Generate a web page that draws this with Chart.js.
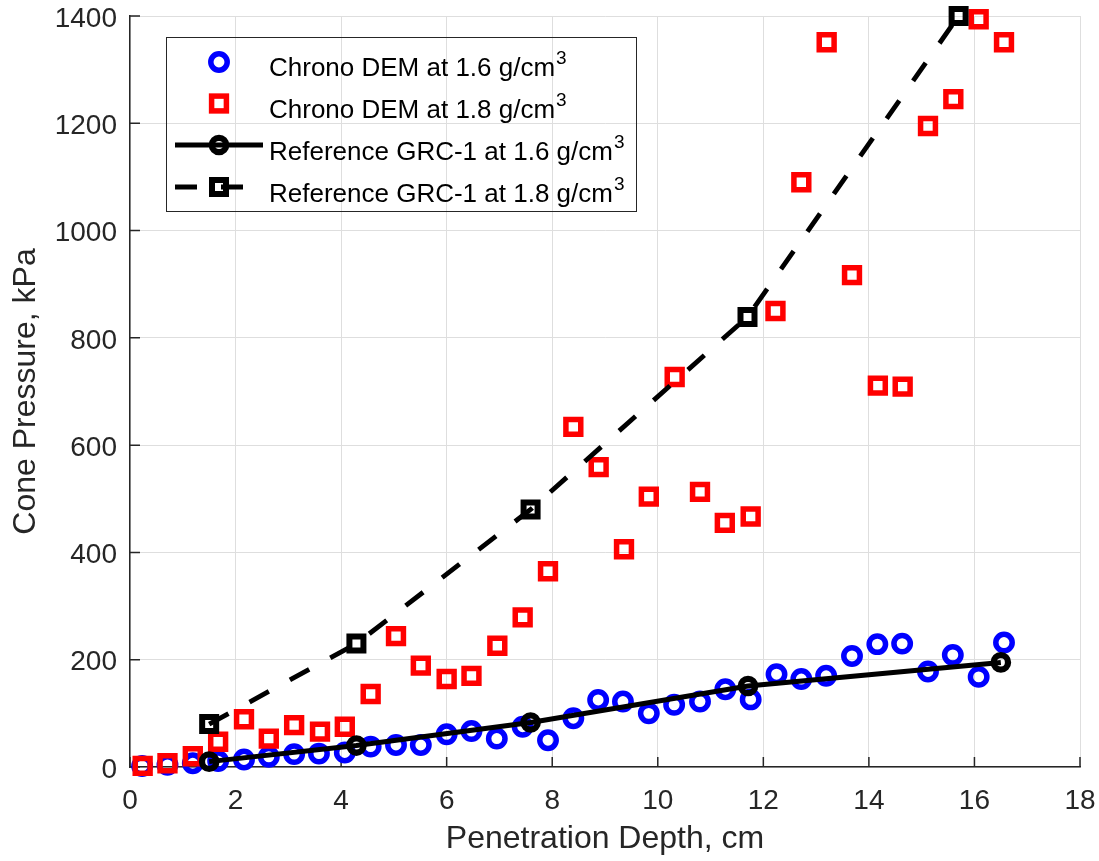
<!DOCTYPE html>
<html lang="en">
<head>
  <meta charset="UTF-8">
  <title>Cone Pressure vs Penetration Depth</title>
  <script src="https://cdn.jsdelivr.net/npm/chart.js"></script>
  <style>
    html, body { margin: 0; padding: 0; background: #fff; }
    #coneChart { display: block; }
  </style>
</head>
<body>
<canvas id="coneChart" width="1099" height="861"></canvas>

<script>
  // Chrono DEM at 1.6 g/cm3
  const demDepth16 = [0.23, 0.71, 1.19, 1.67, 2.16, 2.63, 3.11, 3.58, 4.07, 4.56, 5.04, 5.51,
    6.00, 6.47, 6.95, 7.44, 7.92, 8.40, 8.87, 9.34, 9.83, 10.31, 10.80, 11.28, 11.76,
    12.25, 12.72, 13.19, 13.68, 14.16, 14.63, 15.12, 15.59, 16.08, 16.56];
  const demPressure16 = [2, 4, 7, 11, 14, 19, 24, 25, 27, 38, 41, 41,
    61, 67, 53, 75, 50, 91, 125, 122, 100, 116, 122, 145, 126,
    173, 164, 170, 207, 229, 230, 178, 209, 168, 232];

  // Chrono DEM at 1.8 g/cm3
  const demDepth18 = [0.24, 0.71, 1.19, 1.67, 2.16, 2.63, 3.11, 3.60, 4.07, 4.56, 5.04, 5.51,
    6.00, 6.47, 6.96, 7.44, 7.92, 8.40, 8.88, 9.36, 9.83, 10.32, 10.80, 11.27, 11.76,
    12.23, 12.72, 13.20, 13.68, 14.17, 14.64, 15.12, 15.60, 16.08, 16.56];
  const demPressure18 = [2, 7, 20, 47, 89, 53, 78, 66, 75, 136, 244, 189,
    164, 170, 226, 279, 365, 634, 559, 406, 504, 727, 513, 455, 467,
    850, 1090, 1351, 917, 711, 709, 1195, 1245, 1394, 1351];

  // Reference GRC-1 curves
  const refDepth16 = [1.50, 4.29, 7.59, 11.71, 16.50];
  const refPressure16 = [10, 40, 83, 151, 195];
  const refDepth18 = [1.50, 4.29, 7.59, 11.70, 15.70];
  const refPressure18 = [80, 230, 480, 839, 1400];

  const legendLabels = [
    'Chrono DEM at 1.6 g/cm',
    'Chrono DEM at 1.8 g/cm',
    'Reference GRC-1 at 1.6 g/cm',
    'Reference GRC-1 at 1.8 g/cm'
  ];

  const FONT = '"Liberation Sans", Arial, Helvetica, sans-serif';
  const AXIS_COLOR = '#262626';
  const GRID_COLOR = '#dedede';
  const DASH = [22, 24];

  function toPoints(xs, ys) {
    return xs.map((x, i) => ({ x: x, y: ys[i] }));
  }

  // marker helpers shared by the legend
  function drawCircle(ctx, x, y, r, lw, color) {
    ctx.beginPath();
    ctx.arc(x, y, r, 0, Math.PI * 2);
    ctx.lineWidth = lw;
    ctx.strokeStyle = color;
    ctx.stroke();
  }
  function drawSquare(ctx, x, y, half, lw, color) {
    ctx.lineWidth = lw;
    ctx.strokeStyle = color;
    ctx.strokeRect(x - half, y - half, half * 2, half * 2);
  }

  // inward tick marks + MATLAB style legend (transparent box)
  const matlabLook = {
    id: 'matlabLook',
    beforeDatasetsDraw(chart) {
      const { ctx, chartArea: a, scales: { x, y } } = chart;
      ctx.save();
      ctx.strokeStyle = AXIS_COLOR;
      ctx.lineWidth = 1.5;
      ctx.beginPath();
      x.ticks.forEach(t => {
        const px = x.getPixelForValue(t.value);
        ctx.moveTo(px, a.bottom);
        ctx.lineTo(px, a.bottom - 10);
      });
      y.ticks.forEach(t => {
        const py = y.getPixelForValue(t.value);
        ctx.moveTo(a.left, py);
        ctx.lineTo(a.left + 10, py);
      });
      ctx.stroke();
      ctx.restore();
    },
    afterDatasetsDraw(chart) {
      const ctx = chart.ctx;
      ctx.save();
      // box
      ctx.strokeStyle = AXIS_COLOR;
      ctx.lineWidth = 1;
      ctx.strokeRect(166.5, 37.5, 470, 174);

      const mx = 219, tx = 269;
      const markerY = [62, 103.5, 145, 187];
      const baseY = [76, 118, 160, 202];

      drawCircle(ctx, mx, markerY[0], 8.2, 5.5, '#0000ff');
      drawSquare(ctx, mx, markerY[1], 7.4, 5.5, '#ff0000');

      ctx.lineCap = 'butt';
      ctx.beginPath();
      ctx.moveTo(175, markerY[2]);
      ctx.lineTo(263, markerY[2]);
      ctx.lineWidth = 5;
      ctx.strokeStyle = '#000';
      ctx.stroke();
      drawCircle(ctx, mx, markerY[2], 7.2, 6.3, '#000');

      ctx.setLineDash(DASH);
      ctx.beginPath();
      ctx.moveTo(175, markerY[3]);
      ctx.lineTo(263, markerY[3]);
      ctx.lineWidth = 5;
      ctx.stroke();
      ctx.setLineDash([]);
      drawSquare(ctx, mx, markerY[3], 7, 6, '#000');

      ctx.fillStyle = '#000';
      ctx.textBaseline = 'alphabetic';
      ctx.textAlign = 'left';
      legendLabels.forEach((label, i) => {
        ctx.font = '26px ' + FONT;
        ctx.fillText(label, tx, baseY[i]);
        const w = ctx.measureText(label).width;
        ctx.font = '19px ' + FONT;
        ctx.fillText('3', tx + w + 1, baseY[i] - 12);
      });
      ctx.restore();
    }
  };

  const ctx = document.getElementById('coneChart').getContext('2d');
  const coneChart = new Chart(ctx, {
    type: 'scatter',
    data: {
      datasets: [
        {
          label: legendLabels[0],
          data: toPoints(demDepth16, demPressure16),
          showLine: false,
          pointStyle: 'circle',
          pointRadius: 8.2,
          pointBorderWidth: 5.5,
          pointBorderColor: '#0000ff',
          pointBackgroundColor: 'rgba(0,0,0,0)',
          clip: false,
          order: 4
        },
        {
          label: legendLabels[1],
          data: toPoints(demDepth18, demPressure18),
          showLine: false,
          pointStyle: 'rect',
          pointRadius: 10.5,
          pointBorderWidth: 5.5,
          pointBorderColor: '#ff0000',
          pointBackgroundColor: 'rgba(0,0,0,0)',
          clip: false,
          order: 3
        },
        {
          label: legendLabels[2],
          data: toPoints(refDepth16, refPressure16),
          showLine: true,
          borderColor: '#000',
          borderWidth: 5,
          tension: 0,
          pointStyle: 'circle',
          pointRadius: 7.2,
          pointBorderWidth: 6.3,
          pointBorderColor: '#000',
          pointBackgroundColor: 'rgba(0,0,0,0)',
          clip: false,
          order: 2
        },
        {
          label: legendLabels[3],
          data: toPoints(refDepth18, refPressure18),
          showLine: true,
          borderColor: '#000',
          borderWidth: 4.8,
          borderDash: DASH,
          tension: 0,
          pointStyle: 'rect',
          pointRadius: 9.9,
          pointBorderWidth: 6,
          pointBorderColor: '#000',
          pointBackgroundColor: 'rgba(0,0,0,0)',
          clip: false,
          order: 1
        }
      ]
    },
    options: {
      responsive: false,
      animation: false,
      events: [],
      layout: { padding: { left: 0, top: 16, right: 19, bottom: 0 } },
      plugins: {
        legend: { display: false },
        tooltip: { enabled: false }
      },
      scales: {
        x: {
          type: 'linear',
          min: 0,
          max: 18,
          ticks: {
            stepSize: 2,
            color: AXIS_COLOR,
            font: { family: FONT, size: 28 },
            padding: 17,
            maxRotation: 0,
            autoSkip: false,
            callback: v => String(v)
          },
          grid: { color: GRID_COLOR, lineWidth: 1, drawTicks: false },
          border: { display: true, color: AXIS_COLOR, width: 1.5 },
          title: {
            display: true,
            text: 'Penetration Depth, cm',
            color: AXIS_COLOR,
            font: { family: FONT, size: 32 },
            padding: { top: 0, bottom: 2.7 }
          },
          afterFit(scale) {
            scale.height = 94;
            scale.paddingLeft = 0;
            scale.paddingRight = 0;
          }
        },
        y: {
          type: 'linear',
          min: 0,
          max: 1400,
          ticks: {
            stepSize: 200,
            color: AXIS_COLOR,
            font: { family: FONT, size: 28 },
            padding: 13,
            labelOffset: 3,
            callback: v => String(v)
          },
          grid: { color: GRID_COLOR, lineWidth: 1, drawTicks: false },
          border: { display: true, color: AXIS_COLOR, width: 1.5 },
          title: {
            display: true,
            text: 'Cone Pressure, kPa',
            color: AXIS_COLOR,
            font: { family: FONT, size: 32 },
            padding: { top: 7.3, bottom: 0 }
          },
          afterFit(scale) {
            scale.width = 130;
            scale.paddingTop = 0;
            scale.paddingBottom = 0;
          }
        }
      }
    },
    plugins: [matlabLook]
  });
</script>
</body>
</html>
